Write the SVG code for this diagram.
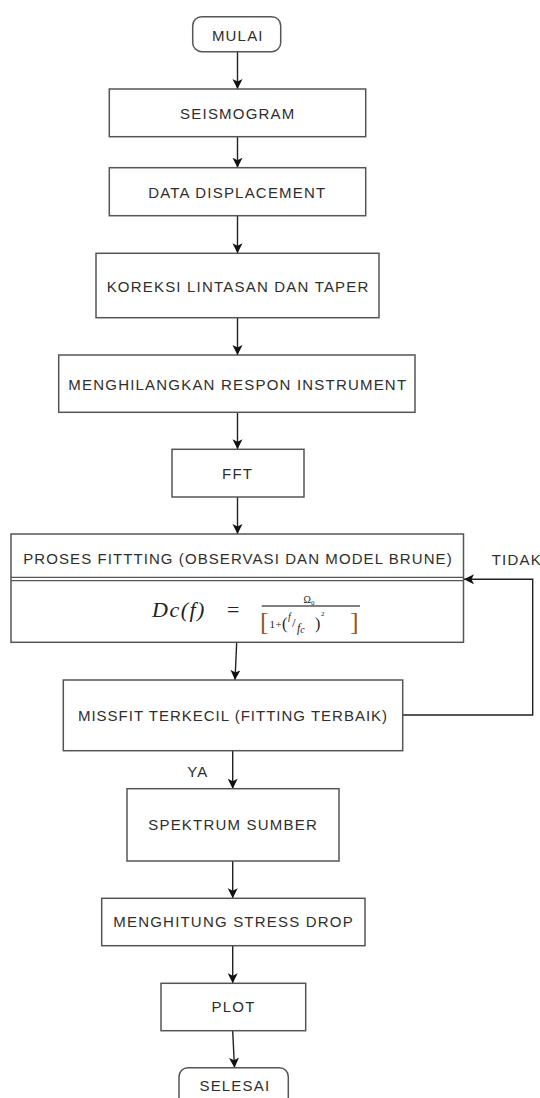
<svg xmlns="http://www.w3.org/2000/svg" width="540" height="1098" viewBox="0 0 540 1098">
<defs>
<style>
.box{fill:#fff;stroke:#555;stroke-width:1.5}
.lbl{font-family:"Liberation Sans",Arial,sans-serif;font-size:15px;letter-spacing:1.2px;fill:#2e2e2e;text-anchor:middle}
.lbls{font-family:"Liberation Sans",Arial,sans-serif;font-size:15px;letter-spacing:1.2px;fill:#2e2e2e}
.con{fill:none;stroke:#222;stroke-width:1.4}
.m{font-family:"Liberation Serif","Times New Roman",serif;fill:#222}
.br{font-family:"Liberation Serif","Times New Roman",serif;fill:#8b5a2b}
</style>
<marker id="arr" markerUnits="userSpaceOnUse" markerWidth="11" markerHeight="11" refX="10" refY="5" orient="auto">
<path d="M0,0 L10,5 L0,10 L2.5,5 z" fill="#111"/>
</marker>
</defs>
<rect width="540" height="1098" fill="#fff"/>

<g id="connectors">
<path class="con" d="M237.5,52 V89" marker-end="url(#arr)"/>
<path class="con" d="M237.5,137 V167.7" marker-end="url(#arr)"/>
<path class="con" d="M237.5,216 V253.3" marker-end="url(#arr)"/>
<path class="con" d="M237.5,318 V355" marker-end="url(#arr)"/>
<path class="con" d="M237.5,412.5 V449.3" marker-end="url(#arr)"/>
<path class="con" d="M237.5,497 V534" marker-end="url(#arr)"/>
<path class="con" d="M236.7,642.3 L235,680" marker-end="url(#arr)"/>
<path class="con" d="M232.7,750.7 V788.7" marker-end="url(#arr)"/>
<path class="con" d="M232.7,861 V898.3" marker-end="url(#arr)"/>
<path class="con" d="M232.7,946 V983.3" marker-end="url(#arr)"/>
<path class="con" d="M232.7,1031 L234.5,1067.7" marker-end="url(#arr)"/>
<path class="con" d="M402.7,715 H532.7 V579.3 H464" marker-end="url(#arr)"/>
<text class="lbls" x="491.7" y="565.4">TIDAK</text>
<text class="lbl" x="197.9" y="777">YA</text>
</g>

<g id="mulai">
<rect class="box" x="192.7" y="16.7" width="88" height="35" rx="9"/>
<text class="lbl" x="237.8" y="41.4">MULAI</text>
</g>
<g id="seismogram">
<rect class="box" x="109.3" y="89" width="256.4" height="47.7"/>
<text class="lbl" x="237.8" y="119">SEISMOGRAM</text>
</g>
<g id="data-displacement">
<rect class="box" x="109.3" y="167.7" width="256.4" height="48"/>
<text class="lbl" x="237.3" y="198">DATA DISPLACEMENT</text>
</g>
<g id="koreksi">
<rect class="box" x="96" y="253.3" width="283" height="64.4"/>
<text class="lbl" x="238.1" y="292">KOREKSI LINTASAN DAN TAPER</text>
</g>
<g id="menghilangkan">
<rect class="box" x="58.7" y="355" width="356.3" height="57.3"/>
<text class="lbl" x="237.8" y="389.7">MENGHILANGKAN RESPON INSTRUMENT</text>
</g>
<g id="fft">
<rect class="box" x="172" y="449.3" width="132" height="47.7"/>
<text class="lbl" x="237.6" y="478.7">FFT</text>
</g>
<g id="proses-fitting">
<rect class="box" x="11" y="534" width="452.5" height="108.3"/>
<line x1="11" y1="577.3" x2="463.5" y2="577.3" stroke="#555" stroke-width="1.3"/>
<line x1="11" y1="580.7" x2="463.5" y2="580.7" stroke="#555" stroke-width="1.3"/>
<text class="lbl" x="238" y="564.4" style="letter-spacing:1.08px">PROSES FITTTING (OBSERVASI DAN MODEL BRUNE)</text>
<text class="m" x="152" y="616.5" font-size="22" font-style="italic" letter-spacing="1.5">Dc(f)</text>
<text class="m" x="227" y="616.5" font-size="22">=</text>
<text class="m" x="309" y="602.5" font-size="10" text-anchor="middle">Ω<tspan font-size="7" dy="2">0</tspan></text>
<line x1="261.7" y1="606" x2="360" y2="606" stroke="#555" stroke-width="1.3"/>
<text class="br" x="260" y="630" font-size="26">[</text>
<text class="m" x="269.5" y="628" font-size="11">1</text>
<text class="m" x="275.5" y="628" font-size="11">+</text>
<text class="m" x="282" y="629" font-size="16">(</text>
<text class="m" x="288" y="619.5" font-size="10" font-style="italic">f</text>
<text class="m" x="292" y="627" font-size="13">/</text>
<text class="m" x="297" y="632" font-size="12" font-style="italic">f<tspan font-size="10" dy="1">c</tspan></text>
<text class="m" x="315" y="629" font-size="16">)</text>
<text class="m" x="321" y="615.5" font-size="7">2</text>
<text class="br" x="350" y="630" font-size="26">]</text>
</g>
<g id="missfit">
<rect class="box" x="63.3" y="680" width="339.4" height="70.7"/>
<text class="lbl" x="233" y="721.4" style="letter-spacing:1px">MISSFIT TERKECIL (FITTING TERBAIK)</text>
</g>
<g id="spektrum">
<rect class="box" x="127" y="788.7" width="212" height="72.3"/>
<text class="lbl" x="233.1" y="830.4">SPEKTRUM SUMBER</text>
</g>
<g id="stress-drop">
<rect class="box" x="101.7" y="898.3" width="263.3" height="47.4"/>
<text class="lbl" x="233.6" y="927">MENGHITUNG STRESS DROP</text>
</g>
<g id="plot">
<rect class="box" x="161" y="983.3" width="144.7" height="47.4"/>
<text class="lbl" x="233.6" y="1012">PLOT</text>
</g>
<g id="selesai">
<rect class="box" x="179" y="1067.7" width="109.3" height="42" rx="9"/>
<text class="lbl" x="234.9" y="1091">SELESAI</text>
</g>
</svg>
